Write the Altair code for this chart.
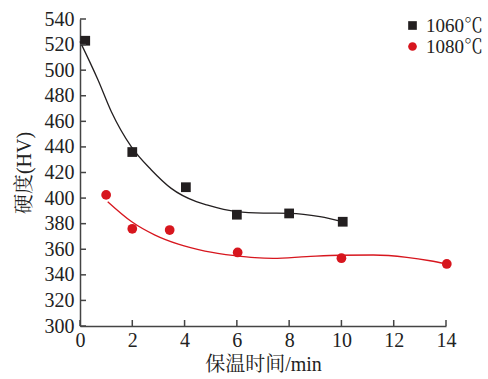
import altair as alt
import pandas as pd

# Measured points
series_names = ["1060℃", "1080℃"]
x_1060 = [0.2, 2.0, 4.05, 6.0, 8.0, 10.05]
y_1060 = [523, 436, 408.5, 387, 388, 381.5]
x_1080 = [1.0, 2.0, 3.43, 6.03, 10.0, 14.03]
y_1080 = [402.5, 376, 375, 357.5, 353, 348.5]

# Fitted curves
curve_1060_x = [0.0, 0.69, 1.2, 1.96, 2.73, 3.49, 4.45, 4.85, 5.99, 7.01, 8.03, 9.18, 10.07]
curve_1060_y = [522.5, 492.3, 467.5, 440.2, 422.0, 407.6, 397.2, 394.6, 389.4, 388.3, 388.1, 385.5, 381.5]
curve_1080_x = [1.06, 1.98, 2.87, 3.76, 4.78, 5.93, 6.69, 7.39, 8.67, 9.95, 11.22, 12.5, 13.39, 14.03]
curve_1080_y = [397.2, 381.5, 371.1, 364.0, 358.6, 355.0, 353.4, 352.9, 354.2, 355.3, 355.5, 353.7, 351.0, 348.4]

x_ticks = [0, 2, 4, 6, 8, 10, 12, 14]
y_ticks = [300, 320, 340, 360, 380, 400, 420, 440, 460, 480, 500, 520, 540]

W, H = 366, 307
FONT = "Liberation Serif, Times New Roman, Noto Serif CJK SC, Noto Sans CJK SC"
BLACK = "#231f20"
RED = "#d7161e"

pts = pd.DataFrame({
    "t": x_1060 + x_1080,
    "hv": y_1060 + y_1080,
    "s": [series_names[0]] * len(x_1060) + [series_names[1]] * len(x_1080),
})
c1 = pd.DataFrame({"t": curve_1060_x, "hv": curve_1060_y})
c2 = pd.DataFrame({"t": curve_1080_x, "hv": curve_1080_y})
xt = pd.DataFrame({"t": x_ticks})
yt = pd.DataFrame({"hv": y_ticks})

xscale = alt.Scale(domain=[0, 14], nice=False, zero=False)
yscale = alt.Scale(domain=[300, 540], nice=False, zero=False)

common = dict(tickSize=0, grid=False, labelFlush=False, labelOverlap=False,
              domainColor="#444", domainWidth=1.5,
              labelFont=FONT, labelFontSize=20, labelColor="#222",
              titleFont=FONT, titleFontSize=20, titleFontWeight="normal", titleColor="#222")
xaxis = alt.Axis(values=x_ticks, labelPadding=4, title="保温时间/min", titlePadding=4, **common)
yaxis = alt.Axis(values=y_ticks, labelPadding=6, title="硬度(HV)", titlePadding=10, **common)

X = alt.X("t:Q", scale=xscale, axis=xaxis)
Y = alt.Y("hv:Q", scale=yscale, axis=yaxis)

line1 = alt.Chart(c1).mark_line(interpolate="monotone", strokeWidth=1.3).encode(
    x=X, y=Y, color=alt.value(BLACK))
line2 = alt.Chart(c2).mark_line(interpolate="monotone", strokeWidth=1.3).encode(
    x=X, y=Y, color=alt.value(RED))

leg = dict(title=None, orient="none", legendX=323, legendY=-3,
           labelFontSize=19, labelFont=FONT, labelColor="#222",
           symbolSize=75, labelOffset=4, rowPadding=1, padding=0)
points = alt.Chart(pts).mark_point(filled=True, opacity=1, size=95).encode(
    x=X, y=Y,
    shape=alt.Shape("s:N", scale=alt.Scale(domain=series_names, range=["square", "circle"]),
                    legend=alt.Legend(**leg)),
    color=alt.Color("s:N", scale=alt.Scale(domain=series_names, range=[BLACK, RED]),
                    legend=alt.Legend(**leg)),
)

xtick_marks = alt.Chart(xt).mark_rule(color="#444", strokeWidth=1.5).encode(
    x=X, y=alt.value(H), y2=alt.value(H - 6))
ytick_marks = alt.Chart(yt).mark_rule(color="#444", strokeWidth=1.5).encode(
    y=Y, x=alt.value(0), x2=alt.value(6))

chart = alt.layer(line1, line2, points, xtick_marks, ytick_marks).properties(
    width=W, height=H,
    background="white",
    autosize=alt.AutoSizeParams(type="none"),
    padding={"left": 80, "top": 19, "right": 42, "bottom": 53},
).configure_view(stroke=None)

chart.save("out.html", embed_options={"renderer": "svg", "actions": False})
